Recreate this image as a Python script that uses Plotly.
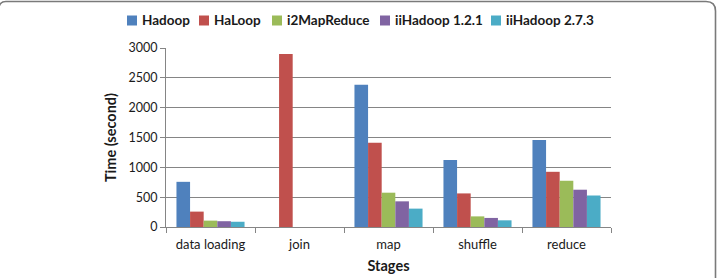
import plotly.graph_objects as go

stages = ["data loading", "join", "map", "shuffle", "reduce"]
series_names = ["Hadoop", "HaLoop", "i2MapReduce", "iiHadoop 1.2.1", "iiHadoop 2.7.3"]
hadoop = [757, None, 2385, 1125, 1458]
haloop = [258, 2900, 1412, 563, 925]
i2mapreduce = [107, None, 575, 178, 775]
iihadoop121 = [97, None, 430, 152, 625]
iihadoop273 = [88, None, 308, 112, 528]
colors = ["#4F81BD", "#C0504D", "#9BBB59", "#8064A2", "#4BACC6"]
y_ticks = [0, 500, 1000, 1500, 2000, 2500, 3000]

W, H = 717, 278
L, R, T, B = 166, 106, 48, 51
PW, PH = W - L - R, H - T - B

def px(x):
    return (x - L) / PW

def py(y):
    return (H - B - y) / PH

fig = go.Figure()
for name, vals, col in zip(series_names,
                           [hadoop, haloop, i2mapreduce, iihadoop121, iihadoop273],
                           colors):
    fig.add_trace(go.Bar(x=stages, y=vals, name=name, marker_color=col,
                         marker_line_width=0, showlegend=False))

FONT = "Lato, 'Open Sans', sans-serif"
TXT = "#1a1a1a"
GRID = "#858585"

# manual legend (square + bold label, tightly spaced like the original)
leg_x = [127, 199, 272, 380, 491]
shapes = []
annotations = []
for name, col, lx in zip(series_names, colors, leg_x):
    shapes.append(dict(type="rect", xref="paper", yref="paper",
                       x0=px(lx), x1=px(lx + 10), y0=py(25.5), y1=py(15.5),
                       fillcolor=col, line_width=0))
    annotations.append(dict(text="<b>%s</b>" % name, xref="paper", yref="paper",
                            x=px(lx + 13), y=py(20.5), xanchor="left", yanchor="middle",
                            showarrow=False, font=dict(family=FONT, size=13.5, color=TXT)))

# rounded frame at top of the figure
frame = ("M %f,%f Q %f,%f %f,%f L %f,%f Q %f,%f %f,%f L %f,%f" % (
    px(-1), py(7), px(0), py(1.5), px(6), py(1.5),
    px(706), py(1.5), px(715.5), py(1.5), px(715.5), py(11),
    px(715.5), py(290)))
shapes.append(dict(type="path", xref="paper", yref="paper", path=frame,
                   line=dict(color="#7a7a7a", width=1.6)))

fig.update_layout(
    width=W, height=H,
    margin=dict(l=L, r=R, t=T, b=B, autoexpand=False),
    paper_bgcolor="white", plot_bgcolor="white",
    barmode="group", bargap=0.235, bargroupgap=0,
    font=dict(family=FONT, color=TXT),
    shapes=shapes, annotations=annotations,
    xaxis=dict(
        type="category", showline=True, linecolor=GRID, linewidth=1,
        ticks="outside", tickson="boundaries", ticklen=5, tickcolor=GRID,
        ticklabelstandoff=5, automargin=False,
        tickfont=dict(family=FONT, size=13, color=TXT),
        title=dict(text="<b>Stages</b>", font=dict(family=FONT, size=14.5, color=TXT),
                   standoff=10),
        showgrid=False,
    ),
    yaxis=dict(
        range=[0, 3000], tickvals=y_ticks, showline=True, linecolor=GRID, linewidth=1,
        ticks="outside", ticklen=5, tickcolor=GRID, automargin=False,
        showgrid=True, gridcolor=GRID, gridwidth=1, zeroline=False,
        tickfont=dict(family=FONT, size=12.5, color=TXT),
        title=dict(text="<b>Time (second)</b>", font=dict(family=FONT, size=14.5, color=TXT),
                   standoff=8),
    ),
)

fig.write_html("out.html")
